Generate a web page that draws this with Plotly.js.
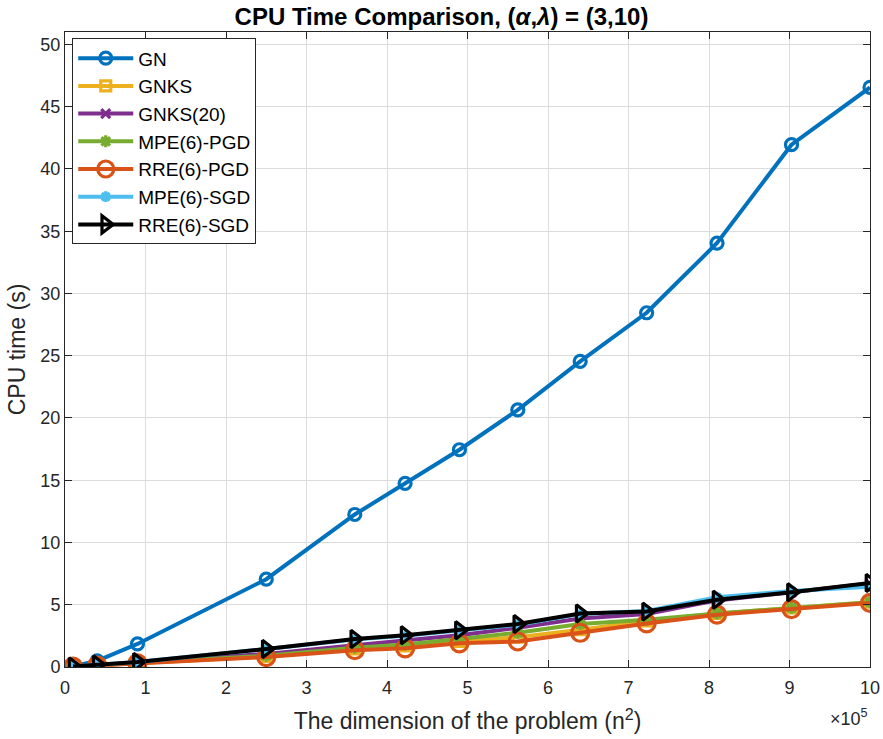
<!DOCTYPE html>
<html><head><meta charset="utf-8">
<script src="https://cdn.plot.ly/plotly-3.0.1.min.js"></script>
<style>html,body{margin:0;padding:0;background:#fff}#chart{width:883px;height:739px}</style>
</head><body><div id="chart"></div>
<script>
// x: problem dimension n^2, in units of 1e5
const xVals = [0.1, 0.4, 0.9, 2.5, 3.6, 4.225, 4.9, 5.625, 6.4, 7.225, 8.1, 9.025, 10];
const seriesNames = ["GN", "GNKS", "GNKS(20)", "MPE(6)-PGD", "RRE(6)-PGD", "MPE(6)-SGD", "RRE(6)-SGD"];
const GN      = [0.05, 0.5, 1.85, 7.05, 12.25, 14.75, 17.45, 20.65, 24.55, 28.45, 34.05, 41.95, 46.55];
const GNKS    = [0.03, 0.12, 0.3, 0.85, 1.45, 1.7, 2.05, 2.4, 3.0, 3.7, 4.3, 4.75, 5.2];
const GNKS20  = [0.03, 0.15, 0.35, 1.05, 1.75, 2.1, 2.55, 3.15, 3.9, 4.25, 5.35, 6.0, 6.7];
const MPE_PGD = [0.03, 0.13, 0.32, 0.9, 1.55, 1.8, 2.25, 2.75, 3.45, 3.8, 4.3, 4.75, 5.2];
const RRE_PGD = [0.03, 0.12, 0.3, 0.8, 1.35, 1.5, 1.9, 2.05, 2.75, 3.5, 4.2, 4.65, 5.15];
const MPE_SGD = [0.04, 0.2, 0.4, 1.45, 2.2, 2.5, 2.9, 3.4, 4.25, 4.5, 5.6, 6.1, 6.45];
const RRE_SGD = [0.05, 0.2, 0.4, 1.45, 2.25, 2.55, 2.95, 3.45, 4.3, 4.45, 5.4, 6.0, 6.75];
const yTicks = [0, 5, 10, 15, 20, 25, 30, 35, 40, 45, 50];
const xTicks = [0, 1, 2, 3, 4, 5, 6, 7, 8, 9, 10];

const FONT = "'Liberation Sans', Arial, sans-serif";
const styles = [
  {c:'#0072BD', s:'circle-open', ms:12},
  {c:'#EDB120', s:'square-open', ms:10},
  {c:'#7E2F8E', s:'x-thin-open', ms:9},
  {c:'#77AC30', s:'asterisk-open', ms:10},
  {c:'#D95319', s:'circle-open', ms:17},
  {c:'#4DBEEE', s:'asterisk-open', ms:9},
  {c:'#000000', s:'triangle-right-open', ms:15}
];
const ys = [GN, GNKS, GNKS20, MPE_PGD, RRE_PGD, MPE_SGD, RRE_SGD];
const traces = ys.map((y, i) => ({
  x: xVals, y: y, name: seriesNames[i], type: 'scatter', mode: 'lines+markers',
  line: {color: styles[i].c, width: 4},
  marker: {symbol: styles[i].s, size: styles[i].ms, color: styles[i].c, line: {color: styles[i].c, width: 3.2}}
}));

const axisCommon = {
  showline: true, linecolor: '#262626', linewidth: 1, mirror: 'ticks',
  ticks: 'inside', ticklen: 7, tickcolor: '#262626',
  showgrid: true, gridcolor: '#dcdcdc', gridwidth: 1, zeroline: false,
  tickfont: {family: FONT, size: 18, color: '#262626'}
};
const layout = {
  width: 883, height: 739,
  margin: {l: 65, r: 13, t: 32, b: 72},
  paper_bgcolor: '#fff', plot_bgcolor: '#fff',
  title: {text: 'CPU Time Comparison, (<i>α</i>,<i>λ</i>) = (3,10)', x: 0.5, xanchor: 'center', y: 0.978, yanchor: 'middle',
          font: {family: FONT, size: 24, color: '#000', weight: 'bold'}},
  xaxis: Object.assign({}, axisCommon, {range: [0, 10], tickvals: xTicks, ticktext: xTicks.map(String), ticklabelstandoff: 4,
          title: {text: 'The dimension of the problem (n<sup>2</sup>)', font: {family: FONT, size: 23, color: '#262626'}, standoff: 16}}),
  yaxis: Object.assign({}, axisCommon, {range: [0, 51], tickvals: yTicks, ticktext: yTicks.map(String),
          title: {text: 'CPU time (s)', font: {family: FONT, size: 23, color: '#262626'}, standoff: 8}}),
  showlegend: true,
  legend: {x: 0.009, y: 0.99, xanchor: 'left', yanchor: 'top', bgcolor: '#fff', bordercolor: '#262626', borderwidth: 1,
           font: {family: FONT, size: 19, color: '#000'}, tracegroupgap: 0, itemwidth: 55},
  annotations: [{xref: 'paper', yref: 'paper', x: 1.0, y: -0.058, xanchor: 'right', yanchor: 'top', showarrow: false,
                 text: '×10<sup>5</sup>', font: {family: FONT, size: 18, color: '#262626'}}]
};
Plotly.newPlot('chart', traces, layout, {displayModeBar: false, staticPlot: true});
</script></body></html>
